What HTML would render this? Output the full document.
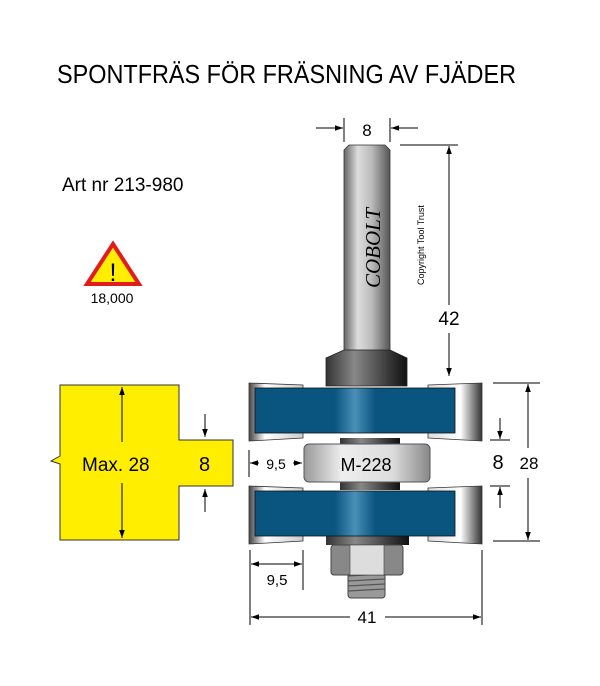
<!DOCTYPE html>
<html><head><meta charset="utf-8"><style>body{margin:0;background:#fff}svg{display:block}</style></head><body>
<svg width="600" height="686" viewBox="0 0 600 686" xmlns="http://www.w3.org/2000/svg" font-family="Liberation Sans, sans-serif">
<defs>
<linearGradient id="sh" x1="0" x2="1"><stop offset="0" stop-color="#666"/><stop offset="0.3" stop-color="#ddd"/><stop offset="0.6" stop-color="#bbb"/><stop offset="1" stop-color="#555"/></linearGradient>
<linearGradient id="dk" x1="0" x2="1"><stop offset="0" stop-color="#333"/><stop offset="0.35" stop-color="#888"/><stop offset="0.8" stop-color="#333"/><stop offset="1" stop-color="#111"/></linearGradient>
<linearGradient id="bl" x1="0" x2="1"><stop offset="0" stop-color="#0a5580"/><stop offset="0.4" stop-color="#0a5580"/><stop offset="0.5" stop-color="#4a8fb8"/><stop offset="0.6" stop-color="#0a5580"/><stop offset="1" stop-color="#0a5580"/></linearGradient>
<linearGradient id="tp" x1="0" x2="1"><stop offset="0" stop-color="#444"/><stop offset="0.3" stop-color="#fff"/><stop offset="1" stop-color="#ccc"/></linearGradient>
<linearGradient id="tp2" x1="0" x2="1"><stop offset="0" stop-color="#ddd"/><stop offset="0.6" stop-color="#fff"/><stop offset="1" stop-color="#333"/></linearGradient>
<linearGradient id="br" x1="0" x2="1"><stop offset="0" stop-color="#999"/><stop offset="0.3" stop-color="#eee"/><stop offset="0.7" stop-color="#ddd"/><stop offset="1" stop-color="#888"/></linearGradient>
<marker id="a" viewBox="0 0 10 10" refX="10" refY="5" markerWidth="8" markerHeight="8" orient="auto-start-reverse" markerUnits="userSpaceOnUse"><path d="M0,1.5 L10,5 L0,8.5z" fill="#000"/></marker>
</defs>
<text x="57" y="83" font-size="26" textLength="459" lengthAdjust="spacingAndGlyphs">SPONTFRÄS FÖR FRÄSNING AV FJÄDER</text>
<text x="62" y="191" font-size="19">Art nr 213-980</text>
<polygon points="113,244 139,284 87,284" fill="#ffee00" stroke="#e21b1b" stroke-width="4" stroke-linejoin="miter"/>
<text x="113" y="281" font-size="25" text-anchor="middle">!</text>
<text x="112" y="303" font-size="14" text-anchor="middle">18,000</text>
<path d="M60,385 H179 V440 H233 V486 H179 V540 H60 V464 L51,461 L60,456 Z" fill="#ffee00" stroke="#333" stroke-width="1"/>
<line x1="122" y1="387" x2="122" y2="442" stroke="#000" marker-start="url(#a)"/>
<line x1="122" y1="483" x2="122" y2="538" stroke="#000" marker-end="url(#a)"/>
<text x="82" y="471" font-size="19">Max. 28</text>
<text x="199" y="471" font-size="20">8</text>
<line x1="205" y1="414" x2="205" y2="437" stroke="#000" marker-end="url(#a)"/>
<line x1="205" y1="512" x2="205" y2="489" stroke="#000" marker-end="url(#a)"/>
<path d="M344,150 L349,145 H385 L390,150 V352 H344 Z" fill="url(#sh)" stroke="#333" stroke-width="0.8"/>
<text transform="translate(380,288) rotate(-90)" font-family="Liberation Serif, serif" font-style="italic" font-size="21">COBOLT</text>
<text transform="translate(424,285) rotate(-90)" font-size="9">Copyright Tool Trust</text>
<path d="M344,350 H390 L407,358 V386 H326 V358 Z" fill="url(#dk)" stroke="#222" stroke-width="0.8"/>
<rect x="340" y="438" width="60" height="10" fill="url(#dk)"/>
<rect x="340" y="480" width="60" height="10" fill="url(#dk)"/>
<rect x="326" y="535" width="83" height="10" fill="url(#dk)"/>
<rect x="304" y="444" width="126" height="38" rx="5" fill="url(#br)" stroke="#555"/>
<text x="366" y="471" font-size="18" text-anchor="middle">M-228</text>
<g id="cut">
<path d="M249,383 L303,385 V438 L249,441 Z" fill="url(#tp)" stroke="#333" stroke-width="0.8"/>
<path d="M428,385 L482,383 V441 L428,438 Z" fill="url(#tp2)" stroke="#333" stroke-width="0.8"/>
<rect x="255" y="388" width="200" height="45" fill="url(#bl)" stroke="#111" stroke-width="0.8"/>
</g>
<use href="#cut" y="103"/>
<rect x="348" y="570" width="37" height="28" rx="3" fill="#999" stroke="#444"/>
<g stroke="#555" stroke-width="1.2"><line x1="348" y1="576" x2="385" y2="574"/><line x1="348" y1="581" x2="385" y2="579"/><line x1="348" y1="586" x2="385" y2="584"/><line x1="348" y1="591" x2="385" y2="589"/></g>
<rect x="331" y="545" width="72" height="30" rx="3" fill="#888" stroke="#444"/>
<rect x="350" y="545" width="34" height="30" fill="#ddd" stroke="#444" stroke-width="0.6"/>
<g stroke="#000" stroke-width="1" fill="none">
<line x1="344" y1="118" x2="344" y2="142"/><line x1="390" y1="118" x2="390" y2="142"/>
<line x1="316" y1="128" x2="343" y2="128" marker-end="url(#a)"/><line x1="418" y1="128" x2="391" y2="128" marker-end="url(#a)"/>
<line x1="400" y1="145" x2="458" y2="145"/>
<line x1="449" y1="146" x2="449" y2="305" marker-start="url(#a)"/>
<line x1="449" y1="333" x2="449" y2="376" marker-end="url(#a)"/>
<line x1="493" y1="383" x2="540" y2="383"/><line x1="493" y1="541" x2="540" y2="541"/>
<line x1="528" y1="384" x2="528" y2="448" marker-start="url(#a)"/>
<line x1="528" y1="478" x2="528" y2="540" marker-end="url(#a)"/>
<line x1="490" y1="440" x2="510" y2="440"/><line x1="490" y1="486" x2="510" y2="486"/>
<line x1="500" y1="418" x2="500" y2="439" marker-end="url(#a)"/>
<line x1="500" y1="508" x2="500" y2="487" marker-end="url(#a)"/>
<line x1="249" y1="450" x2="249" y2="477"/>
<line x1="259" y1="463" x2="250" y2="463" marker-end="url(#a)"/>
<line x1="293" y1="463" x2="302" y2="463" marker-end="url(#a)"/>
<line x1="250" y1="550" x2="250" y2="625"/><line x1="303" y1="550" x2="303" y2="590"/><line x1="482" y1="550" x2="482" y2="625"/>
<line x1="251" y1="564" x2="302" y2="564" marker-start="url(#a)" marker-end="url(#a)"/>
<line x1="251" y1="617" x2="350" y2="617" marker-start="url(#a)"/>
<line x1="385" y1="617" x2="481" y2="617" marker-end="url(#a)"/>
</g>
<text x="367" y="136" font-size="17" text-anchor="middle">8</text>
<text x="449" y="325" font-size="19" text-anchor="middle">42</text>
<text x="529" y="469" font-size="17" text-anchor="middle">28</text>
<text x="498" y="469" font-size="20" text-anchor="middle">8</text>
<text x="276" y="469" font-size="14" text-anchor="middle">9,5</text>
<text x="277" y="585" font-size="15" text-anchor="middle">9,5</text>
<text x="367" y="623" font-size="17" text-anchor="middle">41</text>
</svg>
</body></html>
